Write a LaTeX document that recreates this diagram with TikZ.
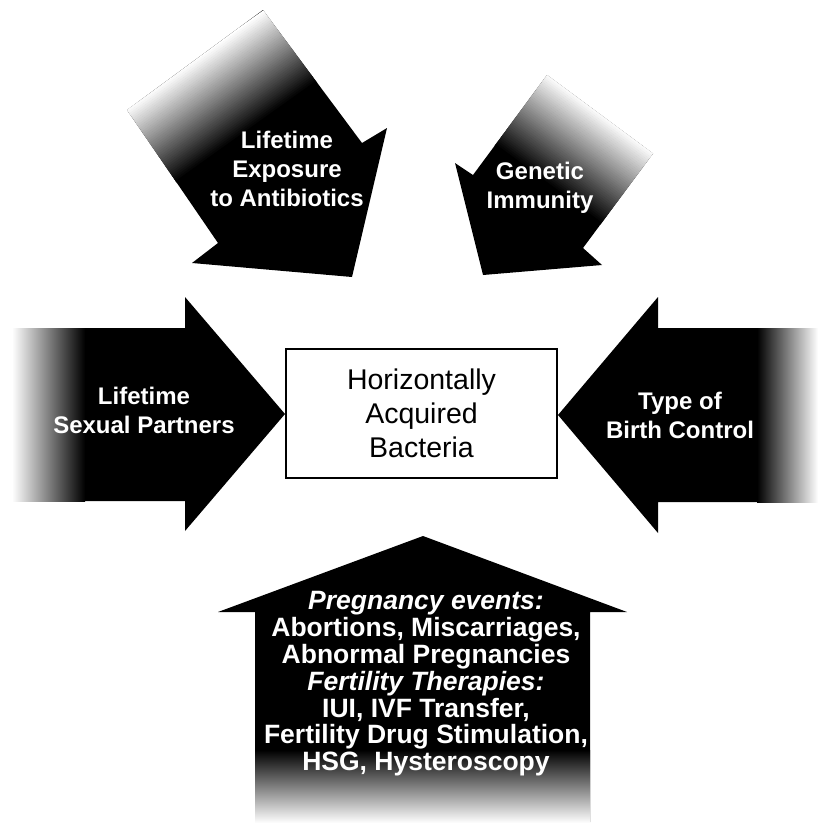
\documentclass[tikz,border=0pt]{standalone}
\usepackage{fontspec}
\setmainfont{Liberation Sans}
\begin{document}
\begin{tikzpicture}[x=1pt,y=-1pt,
  lbl/.style={text=white,font=\bfseries\fontsize{24}{29}\selectfont,align=center,inner sep=0pt},
  blbl/.style={text=white,font=\bfseries\fontsize{26.5}{26.8}\selectfont,align=center,inner sep=0pt},
  hab/.style={draw=black,line width=1.2pt,fill=white,minimum width=271pt,minimum height=129pt,
    align=center,font=\fontsize{28.5}{34}\selectfont,inner sep=0pt}]
\useasboundingbox[fill=white] (0,0) rectangle (817,825);
% left arrow
\fill (13,328) -- (185,328) -- (185,297) -- (285,414) -- (185,531) -- (185,501) -- (13,501) -- cycle;
\shade[left color=white,right color=black] (12,328) rectangle (85,501);
% right arrow
\fill (558,415) -- (658,297) -- (658,328) -- (817,328) -- (817,502) -- (658,502) -- (658,533) -- cycle;
\shade[left color=black,right color=white] (757,328) rectangle (818,502);
% bottom arrow
\fill (423,536) -- (627,612) -- (590,612) -- (590,822) -- (255,822) -- (255,612) -- (218,612) -- cycle;
\shade[top color=black,bottom color=white] (255,750) rectangle (590,823);
% top-left arrow
\fill (127,110) -- (263,10) -- (362,143) -- (387,128) -- (352,277) -- (192,263) -- (218,243) -- cycle;
\begin{scope}
  \clip (127,110) -- (263,10) -- (362,143) -- (218,243) -- cycle;
  \begin{scope}[shift={(127,110)},rotate=-54.5]
    \foreach \i [evaluate=\i as \c using \i*100/44] in {0,...,44}
      \fill[black!\c] (\i*2-2,-250) rectangle ++(2.6,500);
  \end{scope}
\end{scope}
% top-right arrow
\fill (455,163) -- (473,175) -- (547,75) -- (653,153.5) -- (583,248) -- (602,265) -- (483,275) -- cycle;
\begin{scope}
  \clip (547,75) -- (653,153.5) -- (583,248) -- (473,175) -- cycle;
  \begin{scope}[shift={(547,75)},rotate=-126.5]
    \foreach \i [evaluate=\i as \c using \i*100/44] in {0,...,44}
      \fill[black!\c] (\i*2-2,-250) rectangle ++(2.6,500);
  \end{scope}
\end{scope}
% labels
\node[lbl] (tl) at (287,169) {Lifetime\\Exposure\\to Antibiotics};
\node[lbl] (tr) at (540,188) {Genetic\\Immunity};
\node[lbl] (lf) at (144,410) {Lifetime\\Sexual Partners};
\node[lbl] (rt) at (680,415) {Type of\\Birth Control};
\node[hab] (hab) at (421.5,413.5) {Horizontally\\Acquired\\Bacteria};
\node[blbl] (bt) at (426,684) {\textit{Pregnancy events:}\\Abortions, Miscarriages,\\Abnormal Pregnancies\\\textit{Fertility Therapies:}\\IUI, IVF Transfer,\\Fertility Drug Stimulation,\\HSG, Hysteroscopy};
\end{tikzpicture}
\end{document}
